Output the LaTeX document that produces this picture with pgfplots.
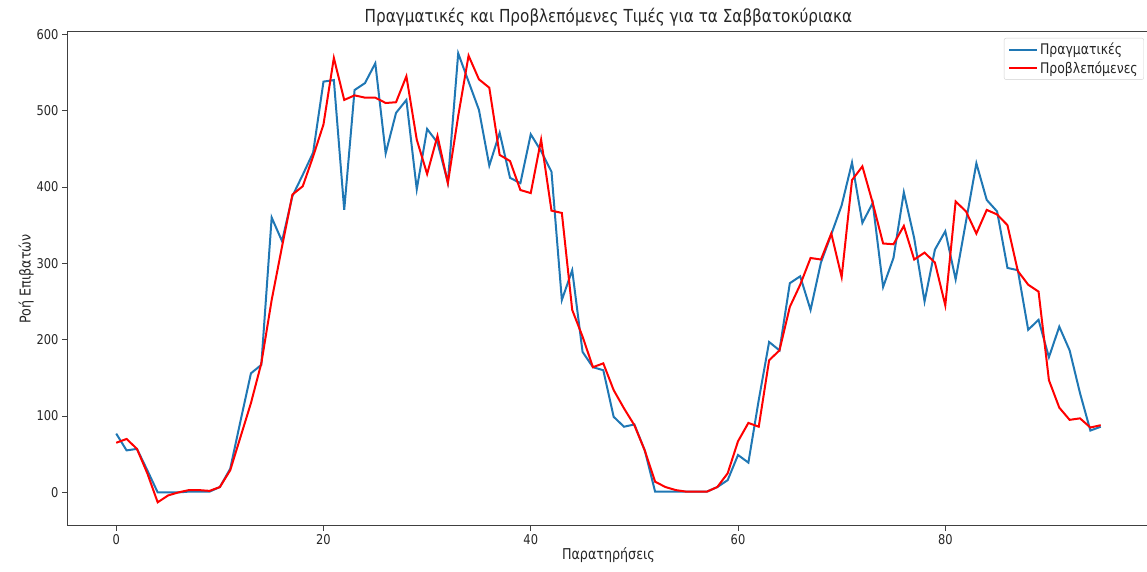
\documentclass[border=0pt]{standalone}
\usepackage{fontspec}
\setmainfont{DejaVu Sans}[FakeStretch=0.85]
\usepackage{pgfplots}
\pgfplotsset{compat=1.18}
\definecolor{tabblue}{HTML}{1F77B4}
\definecolor{txt}{HTML}{262626}

\begin{document}
\begin{tikzpicture}[x=1bp,y=1bp]
\useasboundingbox (0,0) rectangle (1147,572);
\begin{axis}[
  at={(67bp,46bp)}, anchor=south west,
  scale only axis, width=1083bp, height=494bp,
  xmin=-4.75, xmax=99.75, ymin=-44, ymax=603,
  xtick={0,20,40,60,80}, ytick={0,100,200,300,400,500,600},
  tick align=outside, major tick length=5bp,
  tick style={black!75, line width=0.9bp},
  axis line style={black!75, line width=1bp},
  tick pos=left,
  /pgf/number format/assume math mode=true,
  ticklabel style={font=\fontsize{13.5}{15}\selectfont, text=txt},
  title={Πραγματικές και Προβλεπόμενες Τιμές για τα Σαββατοκύριακα},
  title style={font=\fontsize{18}{20}\selectfont, text=txt, yshift=-4bp},
  xlabel={Παρατηρήσεις}, ylabel={Ροή Επιβατών},
  label style={font=\fontsize{15}{17}\selectfont, text=txt},
  xlabel style={yshift=4bp},
  ylabel style={yshift=-4bp},
  legend style={at={(1,1)}, xshift=-6bp, yshift=-6bp, anchor=north east,
    draw=black!18, rounded corners=2bp, fill=white,
    font=\fontsize{14.7}{17}\selectfont, text=txt,
    inner xsep=4bp, inner ysep=3bp, row sep=1bp},
  legend cell align=left,
  legend image code/.code={\draw[#1] (0bp,0bp) -- (28bp,0bp);},
]
\addplot[tabblue, line width=2bp] coordinates {
(0,77) (1,55) (2,57) (3,29) (4,0) (5,0) (6,0) (7,1) (8,1) (9,1)
(10,7) (11,31) (12,94) (13,156) (14,167) (15,360) (16,329) (17,388) (18,416) (19,445)
(20,538) (21,540) (22,370) (23,527) (24,536) (25,562) (26,444) (27,497) (28,514) (29,397)
(30,476) (31,458) (32,406) (33,575) (34,538) (35,501) (36,428) (37,471) (38,412) (39,405)
(40,469) (41,447) (42,420) (43,252) (44,291) (45,184) (46,164) (47,160) (48,99) (49,86)
(50,89) (51,55) (52,1) (53,1) (54,1) (55,1) (56,1) (57,1) (58,7) (59,16)
(60,49) (61,39) (62,121) (63,197) (64,186) (65,274) (66,283) (67,239) (68,301) (69,338)
(70,376) (71,432) (72,353) (73,379) (74,269) (75,307) (76,393) (77,333) (78,250) (79,318)
(80,342) (81,279) (82,355) (83,431) (84,383) (85,368) (86,294) (87,291) (88,213) (89,226)
(90,177) (91,217) (92,186) (93,130) (94,81) (95,86)
};
\addlegendentry{Πραγματικές}
\addplot[red, line width=2bp] coordinates {
(0,65) (1,70) (2,57) (3,25) (4,-13) (5,-4) (6,0) (7,3) (8,3) (9,2)
(10,7) (11,29) (12,73) (13,117) (14,169) (15,252) (16,322) (17,390) (18,401) (19,440)
(20,482) (21,569) (22,514) (23,520) (24,517) (25,517) (26,510) (27,511) (28,545) (29,462)
(30,417) (31,467) (32,405) (33,493) (34,572) (35,541) (36,530) (37,442) (38,434) (39,396)
(40,392) (41,462) (42,369) (43,366) (44,239) (45,204) (46,164) (47,169) (48,134) (49,110)
(50,88) (51,55) (52,14) (53,7) (54,3) (55,1) (56,1) (57,1) (58,7) (59,25)
(60,67) (61,91) (62,86) (63,173) (64,186) (65,243) (66,272) (67,307) (68,305) (69,339)
(70,282) (71,409) (72,427) (73,379) (74,326) (75,325) (76,349) (77,305) (78,314) (79,301)
(80,245) (81,381) (82,368) (83,339) (84,370) (85,364) (86,350) (87,290) (88,272) (89,263)
(90,147) (91,111) (92,95) (93,97) (94,85) (95,88)
};
\addlegendentry{Προβλεπόμενες}
\end{axis}
\end{tikzpicture}
\end{document}
